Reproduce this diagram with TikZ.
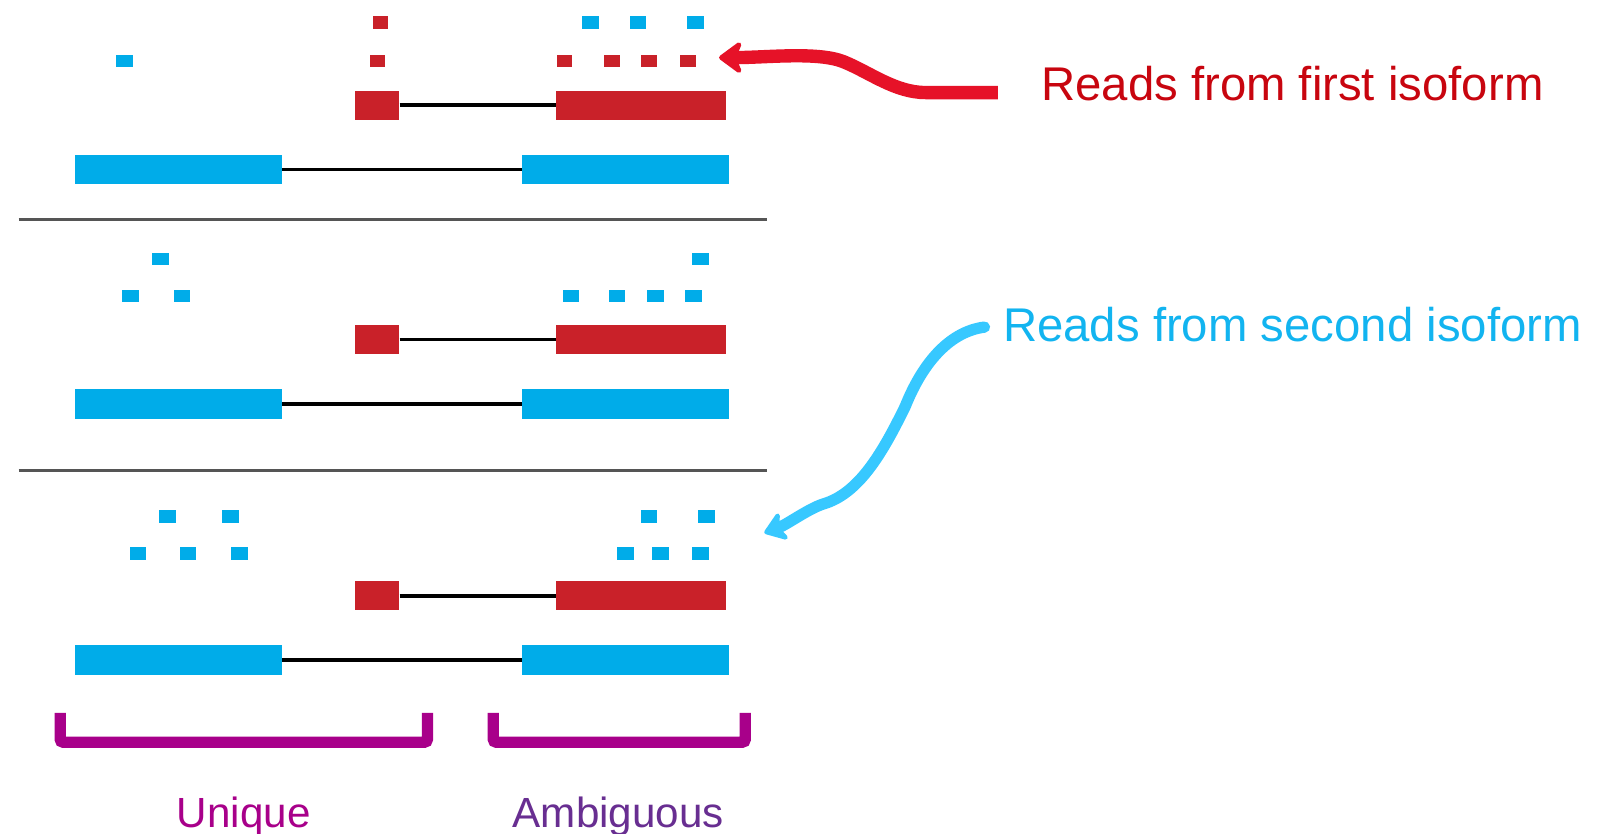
\documentclass[tikz,border=0pt]{standalone}
\usepackage{fontspec}
\setmainfont{Liberation Sans}
\usetikzlibrary{arrows.meta}
\definecolor{exred}{RGB}{201,33,41}
\definecolor{exblue}{RGB}{0,172,233}
\definecolor{txtred}{RGB}{200,5,15}
\definecolor{txtblue}{RGB}{18,180,240}
\definecolor{arrred}{RGB}{230,18,40}
\definecolor{arrblue}{RGB}{55,200,255}
\definecolor{brmag}{RGB}{168,0,138}
\definecolor{amb}{RGB}{104,46,145}
\definecolor{sepgray}{RGB}{85,85,85}
\begin{document}
\begin{tikzpicture}[x=1pt,y=-1pt,
  exonR/.style={rectangle, fill=exred, draw=none, inner sep=0pt, minimum height=28pt, anchor=north west},
  exonB/.style={rectangle, fill=exblue, draw=none, inner sep=0pt, minimum height=29pt, anchor=north west},
  readR/.style={rectangle, fill=exred, inner sep=0pt, minimum width=15pt, minimum height=12pt},
  readB/.style={rectangle, fill=exblue, inner sep=0pt, minimum width=16pt, minimum height=12pt},
  intron/.style={line width=3.4pt, black},
  sepline/.style={line width=2.8pt, sepgray},
  bracket/.style={line width=11pt, brmag, rounded corners=3pt},
  biglab/.style={anchor=base west, inner sep=0pt, font=\fontsize{46}{50}\selectfont},
  smalllab/.style={anchor=base, inner sep=0pt, font=\fontsize{41}{45}\selectfont}
]
\fill[white] (0,0) rectangle (1568,810);
\useasboundingbox (0,0) rectangle (1568,810);

% transcripts
\foreach \p/\dy in {1/0, 2/228, 3/477} {
  \node[exonR, minimum width=43pt] (ra\p) at (345,88+\dy) {};
  \node[exonR, minimum width=166pt] (rb\p) at (540,88+\dy) {};
  \draw[intron] (ra\p.east) -- (rb\p.west);
  \node[exonB, minimum width=201pt] (ba\p) at (73,150+\dy) {};
  \node[exonB, minimum width=201pt] (bb\p) at (507,150+\dy) {};
  \draw[intron] (ba\p.east) -- (bb\p.west);
}

% separators
\coordinate (s1l) at (18,213); \coordinate (s1r) at (746,213);
\coordinate (s2l) at (18,457); \coordinate (s2r) at (746,457);
\draw[sepline] (s1l) -- (s1r);
\draw[sepline] (s2l) -- (s2r);

% reads
\foreach[count=\i] \x/\y in {370/22, 367/59, 549/59, 595/59, 631/59, 669/59}
  \node[readR] (rr\i) at (\x,\y) {};
\foreach[count=\i] \x/\y in {121/59, 574/22, 620/22, 676/22,
  156/252, 127/288, 177/288, 681/252, 555/288, 600/288, 637/288, 674/288,
  163/502, 224/502, 134/538, 183/538, 233/538, 631/502, 687/502, 608/538, 642/538, 681/538}
  \node[readB] (br\i) at (\x,\y) {};

% brackets
\draw[bracket] (58.5,693) -- (58.5,721.5) -- (415.5,721.5) -- (415.5,693);
\draw[bracket] (479.5,693) -- (479.5,721.5) -- (724.5,721.5) -- (724.5,693);

% labels
\node[biglab, text=txtred] (l1) at (1012,98) {Reads from first isoform};
\node[biglab, text=txtblue] (l2) at (975,332) {Reads from second isoform};
\node[smalllab, text=brmag] (u) at (237,804) {Unique};
\node[smalllab, text=amb] (a) at (601,804) {Ambiguous};

% arrows
\coordinate (t1) at (699,56);
\draw[line width=13pt, arrred, -{Stealth[length=26pt,width=38pt,inset=8pt,round]}]
  ([shift={(-42,-8)}]l1.base west) -- (900,90)
  .. controls (870,90) and (845,70) .. (820,60)
  .. controls (795,50) and (745,56) .. (t1);
\coordinate (t2) at (743,518);
\draw[line width=11pt, arrblue, line cap=round, -{Stealth[length=24pt,width=34pt,inset=7pt,round]}]
  ([shift={(-18,-14)}]l2.base west)
  .. controls (925,322) and (898,350) .. (880,395)
  .. controls (858,440) and (835,480) .. (800,490)
  .. controls (785,495) and (765,510) .. (t2);
\end{tikzpicture}
\end{document}
